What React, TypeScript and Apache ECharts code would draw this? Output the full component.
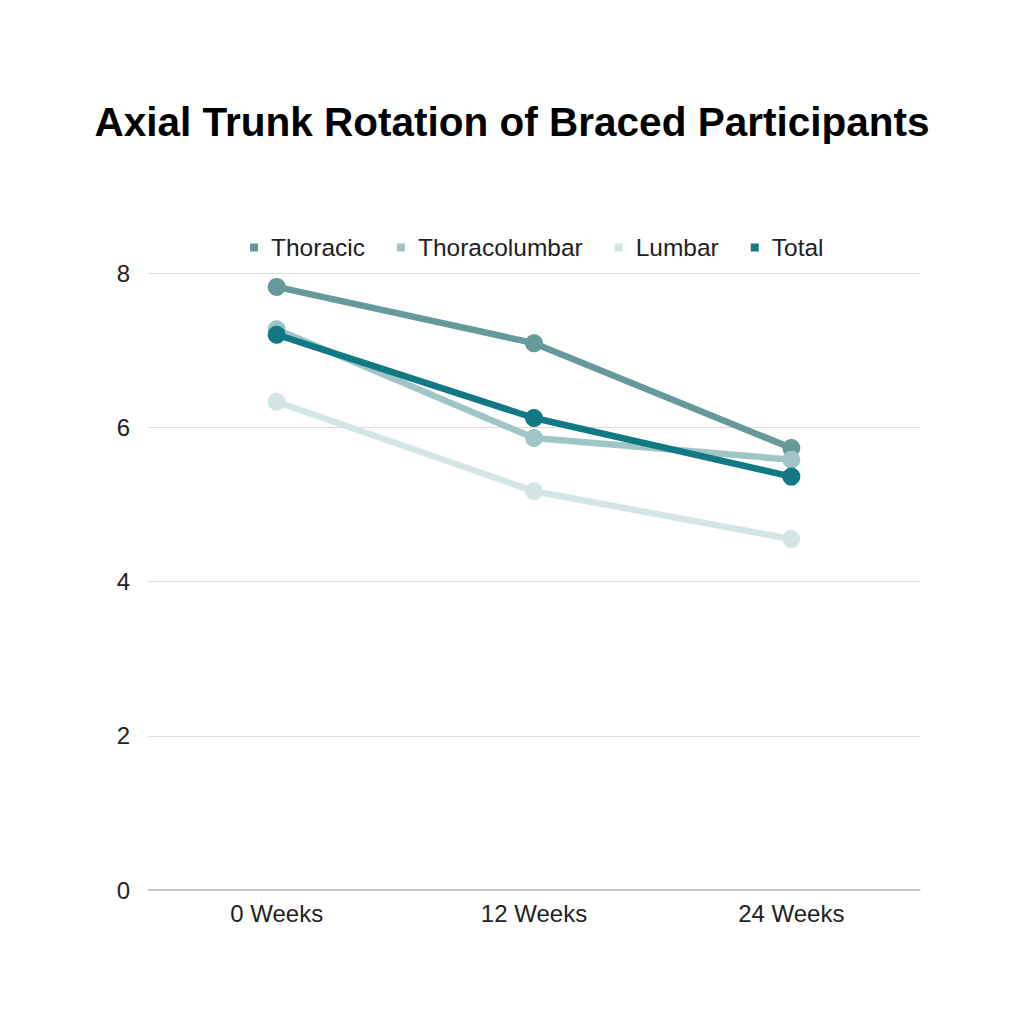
import React, { useEffect, useRef } from "react";
import * as echarts from "echarts";

const categories = ["0 Weeks", "12 Weeks", "24 Weeks"];
const thoracic = [7.82, 7.09, 5.73];
const thoracolumbar = [7.27, 5.86, 5.58];
const lumbar = [6.33, 5.17, 4.55];
const total = [7.2, 6.12, 5.36];
const seriesNames = ["Thoracic", "Thoracolumbar", "Lumbar", "Total"];
const colors = ["#65999c", "#9fc5c6", "#d4e5e5", "#117983"];

export default function App() {
  const ref = useRef<HTMLDivElement>(null);
  useEffect(() => {
    const chart = echarts.init(ref.current!, null, { renderer: "svg" });
    const data = [thoracic, thoracolumbar, lumbar, total];
    chart.setOption({
      animation: false,
      backgroundColor: "#ffffff",
      textStyle: { fontFamily: "Liberation Sans, Arial, sans-serif" },
      title: {
        text: "Axial Trunk Rotation of Braced Participants",
        left: "center",
        top: 96,
        textStyle: { fontSize: 40.5, fontWeight: "bold", color: "#000", fontFamily: "Liberation Sans, Arial, sans-serif" },
      },
      legend: {
        top: 230,
        left: 245,
        itemWidth: 8,
        itemHeight: 8,
        itemGap: 32,
        icon: "rect",
        textStyle: { fontSize: 24.5, color: "#222", padding: [0, 0, 0, 8] },
        data: seriesNames,
      },
      grid: { left: 148, right: 104, top: 273, bottom: 134, containLabel: false },
      xAxis: {
        type: "category",
        data: categories,
        boundaryGap: true,
        axisLine: { lineStyle: { color: "#bbbbbb", width: 1.5 } },
        axisTick: { show: false },
        axisLabel: { fontSize: 24, color: "#222", margin: 11 },
      },
      yAxis: {
        type: "value",
        min: 0,
        max: 8,
        interval: 2,
        axisLine: { show: false },
        axisTick: { show: false },
        splitLine: { lineStyle: { color: "#dddddd" } },
        axisLabel: { fontSize: 24, color: "#222", margin: 18 },
      },
      series: data.map((d, i) => ({
        name: seriesNames[i],
        type: "line",
        data: d,
        symbol: "circle",
        symbolSize: 18,
        lineStyle: { width: 6.5, color: colors[i] },
        itemStyle: { color: colors[i] },
      })),
    });
    return () => chart.dispose();
  }, []);
  return <div ref={ref} style={{ width: 1024, height: 1024, position: "absolute", left: 0, top: 0 }} />;
}
